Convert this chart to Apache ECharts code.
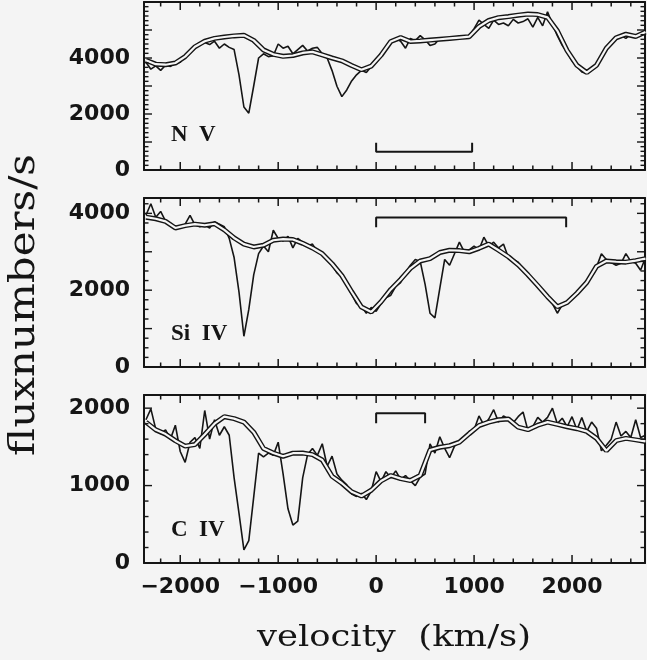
<!DOCTYPE html>
<html><head><meta charset="utf-8">
<script src="https://cdn.jsdelivr.net/npm/echarts@6/dist/echarts.min.js"></script>
<style>html,body{margin:0;padding:0;background:#f4f4f4}#c{width:647px;height:660px}</style>
</head><body><div id="c"></div>
<script>
// velocity grids (km/s)
const obsV = [-2350,-2300,-2250,-2200,-2150,-2100,-2050,-2000,-1950,-1900,
  -1850,-1800,-1750,-1700,-1650,-1600,-1550,-1500,-1450,-1400,
  -1350,-1300,-1250,-1200,-1150,-1100,-1050,-1000,-950,-900,
  -850,-800,-750,-700,-650,-600,-550,-500,-450,-400,
  -350,-300,-250,-200,-150,-100,-50,0,50,100,
  150,200,250,300,350,400,450,500,550,600,
  650,700,750,800,850,900,950,1000,1050,1100,
  1150,1200,1250,1300,1350,1400,1450,1500,1550,1600,
  1650,1700,1750,1800,1850,1900,1950,2000,2050,2100,
  2150,2200,2250,2300,2350,2400,2450,2500,2550,2600,
  2650,2700,2750];
const modelV = [-2350,-2250,-2150,-2050,-1950,-1850,-1750,-1650,-1550,-1450,
  -1350,-1250,-1150,-1050,-950,-850,-750,-650,-550,-450,
  -350,-250,-150,-50,50,150,250,350,450,550,
  650,750,850,950,1050,1150,1250,1350,1450,1550,
  1650,1750,1850,1950,2050,2150,2250,2350,2450,2550,
  2650,2750];

// N V
const nvObs = [3850,3600,3720,3560,3740,3700,3800,3850,4080,4250,
  4380,4500,4550,4480,4600,4350,4500,4380,4300,3400,
  2250,2030,3000,4000,4150,4050,4080,4500,4350,4420,
  4150,4300,4450,4250,4350,4380,4150,4000,3550,2990,
  2620,2860,3180,3400,3560,3480,3700,3850,4050,4350,
  4550,4700,4600,4350,4700,4620,4800,4650,4450,4500,
  4700,4650,4700,4680,4780,4720,4800,5050,5350,5200,
  5060,5350,5200,5250,5150,5380,5250,5300,5400,5100,
  5450,5150,5650,5200,4800,4450,4200,3900,3700,3500,
  3450,3560,3800,4000,4300,4500,4680,4800,4700,4850,
  4750,4800,4950];
const nvModel = [3920,3780,3760,3820,4050,4400,4600,4700,4750,4790,
  4810,4630,4290,4130,4060,4090,4180,4220,4110,4000,
  3900,3730,3580,3710,4100,4590,4730,4590,4610,4640,
  4670,4700,4730,4760,5120,5340,5440,5480,5530,5570,
  5550,5450,4970,4260,3740,3480,3740,4350,4720,4850,
  4770,4930];

// Si IV
const siObs = [3950,4250,3900,4050,3800,3750,3600,3650,3720,3950,
  3700,3650,3700,3620,3780,3720,3650,3350,2850,1950,
  800,1500,2400,2950,3150,3000,3560,3350,3280,3400,
  3100,3350,3250,3150,3200,3000,2950,2800,2650,2450,
  2350,2150,1900,1650,1580,1400,1550,1450,1650,1800,
  1870,2100,2200,2450,2650,2800,2750,2150,1400,1280,
  2050,2800,2650,2950,3250,3000,3050,3150,3050,3380,
  3150,3250,3100,3200,2850,2800,2730,2550,2350,2250,
  2100,1950,1800,1650,1400,1620,1700,1850,1900,2050,
  2250,2400,2600,2950,2800,2720,2650,2700,2950,2750,
  2700,2520,2850];
const siModel = [3900,3860,3790,3620,3680,3720,3690,3730,3570,3360,
  3200,3125,3170,3300,3330,3320,3220,3100,2950,2690,
  2380,1960,1560,1430,1700,2020,2280,2570,2760,2820,
  2980,3040,3030,3000,3090,3200,3040,2870,2660,2400,
  2120,1830,1570,1680,1920,2200,2620,2760,2740,2730,
  2770,2820];

// C IV
const cObs = [1850,1990,1730,1670,1720,1600,1780,1440,1300,1560,
  1620,1480,1970,1600,1850,1650,1760,1650,1100,640,
  170,290,850,1420,1370,1420,1390,1560,1150,700,
  490,540,1100,1400,1480,1390,1540,1250,1380,1150,
  1070,1010,890,860,900,820,930,1180,1050,1180,
  1100,1190,1080,1130,1060,1000,1110,1150,1540,1420,
  1630,1480,1360,1510,1560,1610,1700,1720,1900,1780,
  1860,1980,1820,1900,1860,1810,1890,1950,1710,1760,
  1880,1820,1880,2000,1800,1870,1760,1890,1720,1880,
  1700,1820,1740,1450,1520,1600,1820,1640,1700,1620,
  1850,1620,1650];
const cModel = [1820,1720,1665,1580,1510,1530,1660,1800,1890,1865,
  1820,1690,1480,1420,1378,1418,1420,1400,1330,1120,
  1030,920,865,940,1060,1130,1090,1065,1130,1460,
  1495,1515,1560,1670,1775,1820,1850,1860,1755,1722,
  1780,1820,1790,1760,1735,1700,1610,1450,1580,1610,
  1590,1570];

// velocity-range brackets
const nvBracketV = [0, 0, 980, 980];
const nvBracketF = [975, 650, 650, 975];
const siBracketV = [0, 0, 1940, 1940];
const siBracketF = [3640, 3890, 3890, 3640];
const cBracketV = [0, 0, 500, 500];
const cBracketF = [1805, 1934, 1934, 1805];

// labels and ticks
const panelNames = ['N  V', 'Si  IV', 'C  IV'];
const xTickLabels = [-2000, -1000, 0, 1000, 2000];
const yTickLabels = [[0, 2000, 4000], [0, 2000, 4000], [0, 1000, 2000]];
const yMaxes = [6000, 4400, 2170];
const yMinorSteps = [1000 / 6, 250, 200];
const xMin = -2370, xMax = 2745;

function seq(a, b, s) { const r = []; for (let v = a; v <= b + 1e-6; v += s) r.push(Math.round(v * 100) / 100); return r; }
function zip(a, b) { return a.map((v, i) => [v, b[i]]); }

const panels = [
  { obs: nvObs, model: nvModel, bv: nvBracketV, bf: nvBracketF },
  { obs: siObs, model: siModel, bv: siBracketV, bf: siBracketF },
  { obs: cObs, model: cModel, bv: cBracketV, bf: cBracketF }
];
const gridPos = [{ top: 2, height: 168 }, { top: 198, height: 169 }, { top: 395, height: 168 }];

const INK = '#151515';
const MAJOR = 8, MINOR = 4.5;
const grids = [], xAxes = [], yAxes = [], series = [];
const labelFont = { fontFamily: 'DejaVu Sans', fontWeight: 'bold', fontSize: 22, color: INK };

// tick lists: [value, tick length]
const xTicks = seq(-2200, 2600, 200).map(v => [v, v % 1000 === 0 ? MAJOR : MINOR]);

panels.forEach((p, i) => {
  const yMax = yMaxes[i];
  grids.push({ left: 144, right: 2, top: gridPos[i].top, height: gridPos[i].height });
  const xb = xAxes.length;
  ['bottom', 'top'].forEach(pos => {
    xAxes.push({ type: 'value', gridIndex: i, position: pos, min: xMin, max: xMax,
      axisLine: { show: true, onZero: false, lineStyle: { color: INK, width: 2 } },
      axisTick: { show: false },
      axisLabel: (pos === 'bottom' && i === 2) ? Object.assign({ show: true, margin: 13, customValues: xTickLabels,
        formatter: v => String(v).replace('-', '\u2212') }, labelFont) : { show: false },
      splitLine: { show: false } });
  });
  const yb = yAxes.length;
  ['left', 'right'].forEach(pos => {
    yAxes.push({ type: 'value', gridIndex: i, position: pos, min: 0, max: yMax,
      axisLine: { show: true, onZero: false, lineStyle: { color: INK, width: 2 } },
      axisTick: { show: false },
      axisLabel: pos === 'left' ? Object.assign({ show: true, margin: 14, customValues: yTickLabels[i], formatter: v => String(v) }, labelFont) : { show: false },
      splitLine: { show: false } });
  });
  const common = { xAxisIndex: xb, yAxisIndex: yb, animation: false, silent: true };
  const line = Object.assign({ type: 'line', showSymbol: false, symbol: 'none' }, common);
  series.push(Object.assign({}, line, { data: zip(obsV, p.obs), z: 2, lineStyle: { color: INK, width: 1.6 } }));
  series.push(Object.assign({}, line, { data: zip(modelV, p.model), z: 3, lineStyle: { color: INK, width: 5 } }));
  series.push(Object.assign({}, line, { data: zip(modelV, p.model), z: 4, lineStyle: { color: '#f6f6f6', width: 2.2 } }));
  series.push(Object.assign({}, line, { data: zip(p.bv, p.bf), z: 5, lineStyle: { color: INK, width: 2 } }));

  // inward ticks on all four sides, placed through the axes' own scales
  const yTicks = seq(0, yMax, yMinorSteps[i]).filter(v => v > 0 && v < yMax - 1)
    .map(v => [v, Math.abs(v / 1000 - Math.round(v / 1000)) < 1e-6 ? MAJOR : MINOR]);
  series.push(Object.assign({ type: 'custom', clip: false, z: 6, data: xTicks, encode: { x: 0 },
    renderItem: (params, api) => {
      const v = api.value(0), len = api.value(1);
      const b = api.coord([v, 0]), t = api.coord([v, yMax]);
      const st = { stroke: INK, lineWidth: 1.5 };
      return { type: 'group', children: [
        { type: 'line', shape: { x1: b[0], y1: b[1], x2: b[0], y2: b[1] - len }, style: st },
        { type: 'line', shape: { x1: t[0], y1: t[1], x2: t[0], y2: t[1] + len }, style: st } ] };
    } }, common));
  series.push(Object.assign({ type: 'custom', clip: false, z: 6, data: yTicks.map(d => [xMin, d[0], d[1]]), encode: { x: 0, y: 1 },
    renderItem: (params, api) => {
      const v = api.value(1), len = api.value(2);
      const l = api.coord([xMin, v]), r = api.coord([xMax, v]);
      const st = { stroke: INK, lineWidth: 1.4 };
      return { type: 'group', children: [
        { type: 'line', shape: { x1: l[0], y1: l[1], x2: l[0] + len, y2: l[1] }, style: st },
        { type: 'line', shape: { x1: r[0], y1: r[1], x2: r[0] - len, y2: r[1] }, style: st } ] };
    } }, common));
});

const nameY = [136, 335, 531];
const graphic = panelNames.map((t, i) => ({ type: 'text', left: 171, top: nameY[i] - 12,
  style: { text: t, font: 'bold 23px "Liberation Serif"', fill: INK } }));
graphic.push({ type: 'text', x: 25, y: 305, rotation: Math.PI / 2, scaleX: 1.2,
  style: { text: 'fluxnumbers/s', font: '35px "DejaVu Serif"', fill: INK, textAlign: 'center', textVerticalAlign: 'middle' } });
graphic.push({ type: 'text', x: 394, y: 638, scaleX: 1.22,
  style: { text: 'velocity  (km/s)', font: '29px "DejaVu Serif"', fill: INK, textAlign: 'center', textVerticalAlign: 'middle' } });

const chart = echarts.init(document.getElementById('c'), null, { renderer: 'canvas' });
chart.setOption({ backgroundColor: '#f4f4f4', animation: false, grid: grids, xAxis: xAxes, yAxis: yAxes, series: series, graphic: graphic });
</script></body></html>
